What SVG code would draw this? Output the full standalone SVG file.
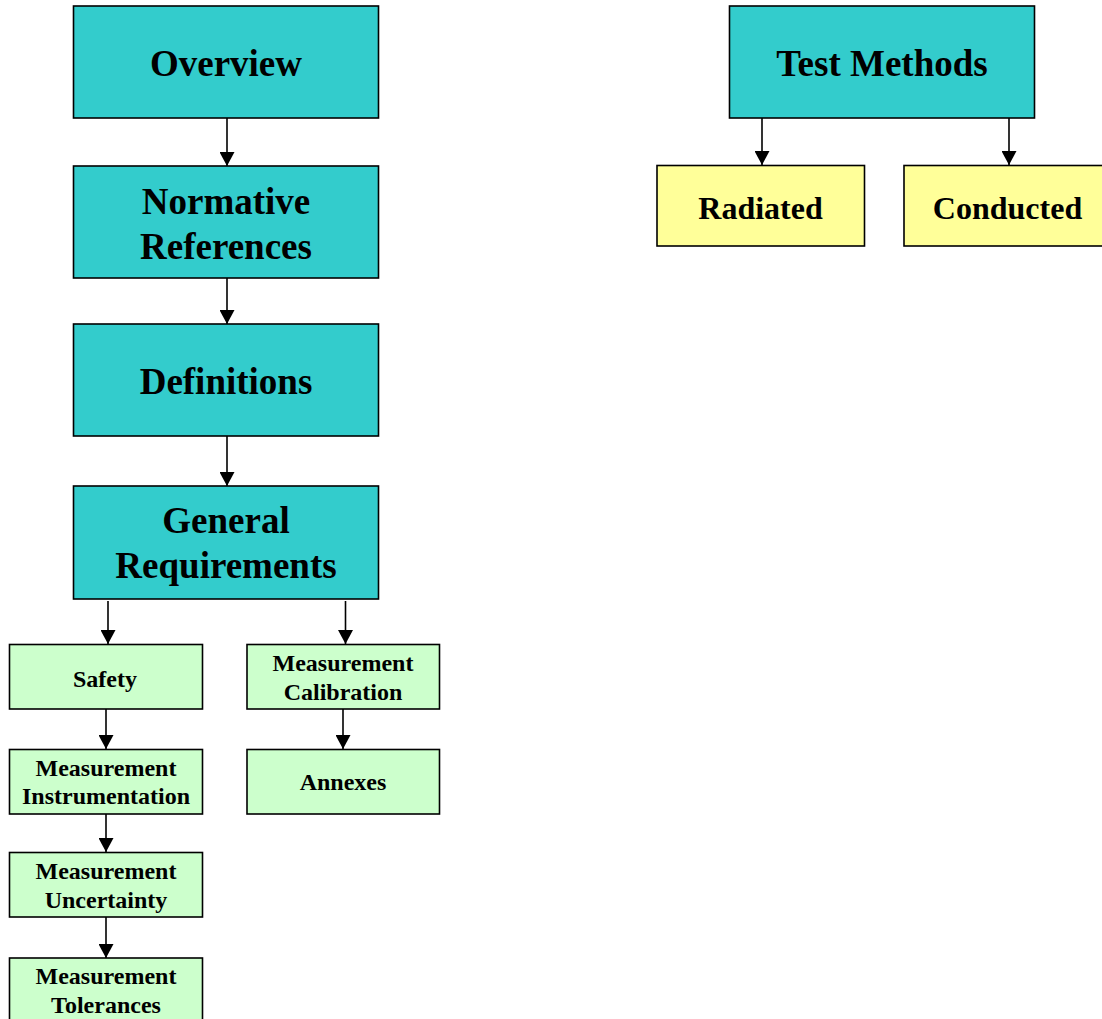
<svg xmlns="http://www.w3.org/2000/svg" width="1102" height="1019" viewBox="0 0 1102 1019">
  <style>
    .box { stroke: #000; stroke-width: 1.6; }
    .teal { fill: #33CCCC; }
    .yellow { fill: #FFFF99; }
    .green { fill: #CCFFCC; }
    text { font-family: "Liberation Serif", "Times New Roman", serif; font-weight: bold; fill: #000; text-anchor: middle; }
    .big { font-size: 37px; }
    .mid { font-size: 32px; }
    .small { font-size: 24px; }
    .link { stroke: #000; stroke-width: 1.6; fill: none; marker-end: url(#arrow); }
  </style>
  <defs>
    <marker id="arrow" viewBox="0 0 14 15" refX="14" refY="7.5" markerWidth="14" markerHeight="15" markerUnits="userSpaceOnUse" orient="auto">
      <path d="M0,0 L14,7.5 L0,15 z" fill="#000"/>
    </marker>
  </defs>
  <rect width="1102" height="1019" fill="#fff"/>

  <g id="connectors">
    <line class="link" x1="227" y1="118" x2="227" y2="166"/>
    <line class="link" x1="227" y1="278" x2="227" y2="324"/>
    <line class="link" x1="227" y1="436" x2="227" y2="486"/>
    <line class="link" x1="108" y1="601" x2="108" y2="644"/>
    <line class="link" x1="345.5" y1="601" x2="345.5" y2="644"/>
    <line class="link" x1="106" y1="709" x2="106" y2="749"/>
    <line class="link" x1="106" y1="814" x2="106" y2="852"/>
    <line class="link" x1="106" y1="917" x2="106" y2="958"/>
    <line class="link" x1="343" y1="709" x2="343" y2="749"/>
    <line class="link" x1="762" y1="118" x2="762" y2="165"/>
    <line class="link" x1="1009" y1="118" x2="1009" y2="165"/>
  </g>

  <g id="overview">
    <rect class="box teal" x="73.5" y="6" width="305" height="112"/>
    <text class="big" x="226" y="76">Overview</text>
  </g>
  <g id="normative-references">
    <rect class="box teal" x="73.5" y="166" width="305" height="112"/>
    <text class="big" x="226" y="214">Normative</text>
    <text class="big" x="226" y="259">References</text>
  </g>
  <g id="definitions">
    <rect class="box teal" x="73.5" y="324" width="305" height="112"/>
    <text class="big" x="226" y="394">Definitions</text>
  </g>
  <g id="general-requirements">
    <rect class="box teal" x="73.5" y="486" width="305" height="113"/>
    <text class="big" x="226" y="533">General</text>
    <text class="big" x="226" y="578">Requirements</text>
  </g>

  <g id="safety">
    <rect class="box green" x="9.5" y="644.5" width="193" height="64.5"/>
    <text class="small" x="105" y="686.5">Safety</text>
  </g>
  <g id="measurement-instrumentation">
    <rect class="box green" x="9.5" y="749.5" width="193" height="64.5"/>
    <text class="small" x="106" y="775.5">Measurement</text>
    <text class="small" x="106" y="804">Instrumentation</text>
  </g>
  <g id="measurement-uncertainty">
    <rect class="box green" x="9.5" y="852.5" width="193" height="64.5"/>
    <text class="small" x="106" y="878.5">Measurement</text>
    <text class="small" x="106" y="907.5">Uncertainty</text>
  </g>
  <g id="measurement-tolerances">
    <rect class="box green" x="9.5" y="958" width="193" height="64.5"/>
    <text class="small" x="106" y="984">Measurement</text>
    <text class="small" x="106" y="1013">Tolerances</text>
  </g>
  <g id="measurement-calibration">
    <rect class="box green" x="247" y="644.5" width="192.5" height="64.5"/>
    <text class="small" x="343" y="671">Measurement</text>
    <text class="small" x="343" y="700">Calibration</text>
  </g>
  <g id="annexes">
    <rect class="box green" x="247" y="749.5" width="192.5" height="64.5"/>
    <text class="small" x="343" y="790">Annexes</text>
  </g>

  <g id="test-methods">
    <rect class="box teal" x="729.5" y="6" width="305" height="112"/>
    <text class="big" x="882" y="76">Test Methods</text>
  </g>
  <g id="radiated">
    <rect class="box yellow" x="657" y="165.5" width="207.5" height="80.5"/>
    <text class="mid" x="760.5" y="218.5">Radiated</text>
  </g>
  <g id="conducted">
    <rect class="box yellow" x="904" y="165.5" width="208" height="80.5"/>
    <text class="mid" x="1007.5" y="218.5">Conducted</text>
  </g>
</svg>
